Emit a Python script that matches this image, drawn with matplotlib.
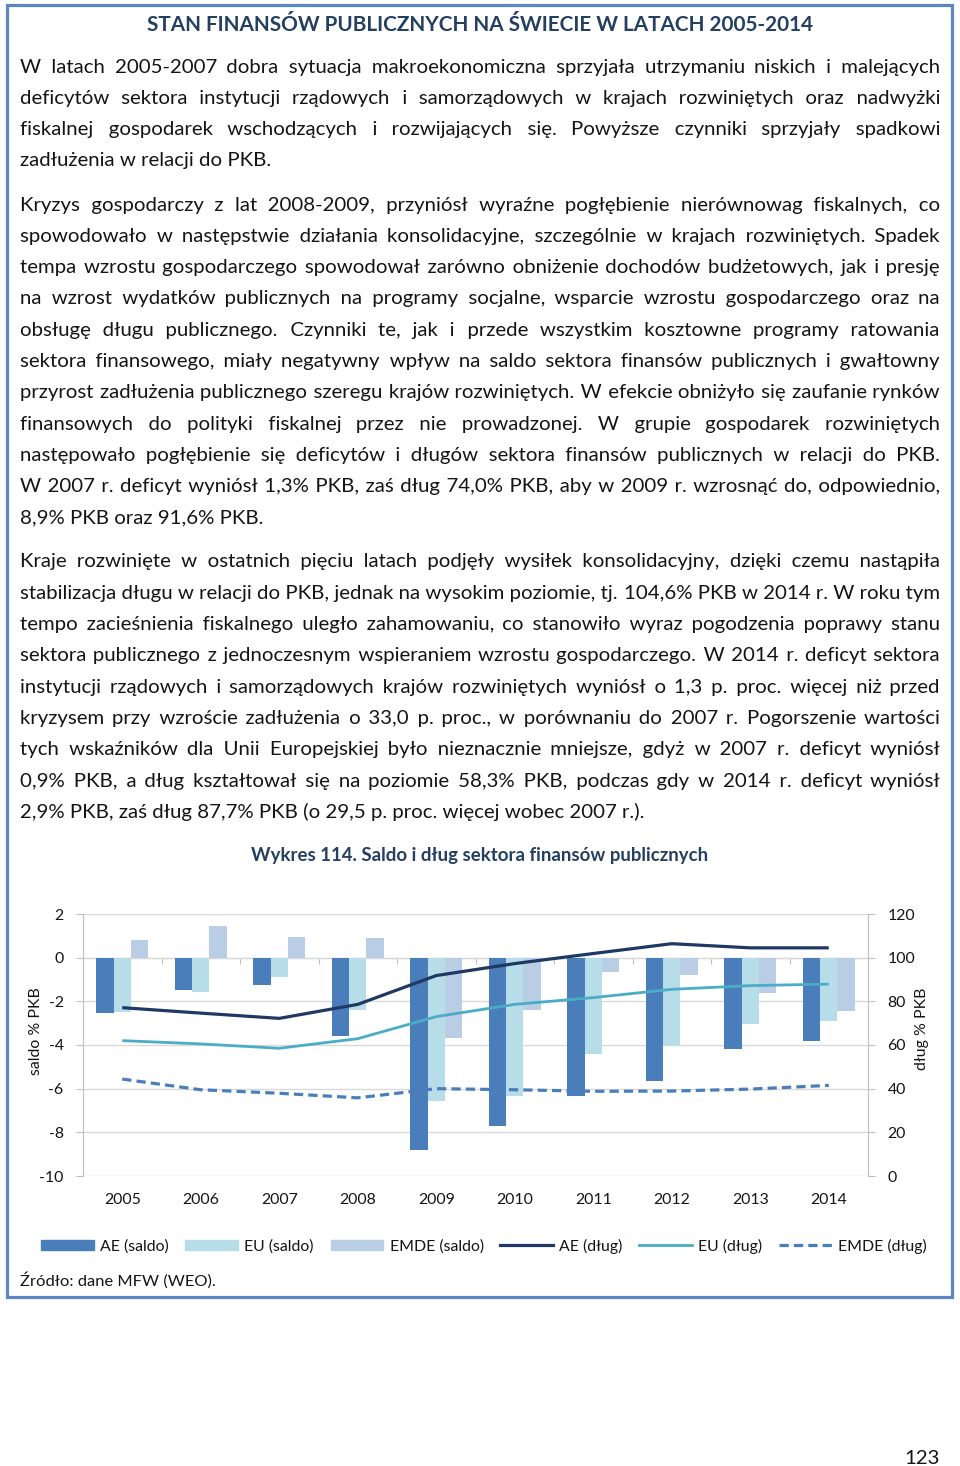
import matplotlib
matplotlib.use('Agg')
import matplotlib.pyplot as plt
import numpy as np
from matplotlib.patches import Rectangle, Patch
from matplotlib.lines import Line2D

# ---------------- data ----------------
years = ['2005', '2006', '2007', '2008', '2009', '2010', '2011', '2012', '2013', '2014']
ae_saldo = [-2.53, -1.48, -1.26, -3.58, -8.83, -7.70, -6.33, -5.67, -4.18, -3.83]
eu_saldo = [-2.48, -1.55, -0.88, -2.39, -6.56, -6.32, -4.41, -4.05, -3.06, -2.88]
emde_saldo = [0.79, 1.45, 0.95, 0.88, -3.68, -2.41, -0.65, -0.79, -1.62, -2.45]
ae_dlug = [77.1, 74.6, 72.2, 78.6, 91.8, 97.3, 101.9, 106.4, 104.5, 104.5]
eu_dlug = [62.0, 60.5, 58.5, 62.9, 73.0, 78.6, 81.7, 85.5, 87.2, 87.9]
emde_dlug = [44.4, 39.5, 37.9, 35.8, 40.0, 39.5, 38.8, 38.9, 39.8, 41.5]
left_ticks = [-10, -8, -6, -4, -2, 0, 2]
right_ticks = [0, 20, 40, 60, 80, 100, 120]
series_labels = ['AE (saldo)', 'EU (saldo)', 'EMDE (saldo)', 'AE (dług)', 'EU (dług)', 'EMDE (dług)']

title = 'STAN FINANSÓW PUBLICZNYCH NA ŚWIECIE W LATACH 2005-2014'
caption = 'Wykres 114. Saldo i dług sektora finansów publicznych'
source = 'Źródło: dane MFW (WEO).'
page_no = '123'

para1 = [
    'W latach 2005-2007 dobra sytuacja makroekonomiczna sprzyjała utrzymaniu niskich i malejących',
    'deficytów sektora instytucji rządowych i samorządowych w krajach rozwiniętych oraz nadwyżki',
    'fiskalnej gospodarek wschodzących i rozwijających się. Powyższe czynniki sprzyjały spadkowi',
    'zadłużenia w relacji do PKB.',
]
para2 = [
    'Kryzys gospodarczy z lat 2008-2009, przyniósł wyraźne pogłębienie nierównowag fiskalnych, co',
    'spowodowało w następstwie działania konsolidacyjne, szczególnie w krajach rozwiniętych. Spadek',
    'tempa wzrostu gospodarczego spowodował zarówno obniżenie dochodów budżetowych, jak i presję',
    'na wzrost wydatków publicznych na programy socjalne, wsparcie wzrostu gospodarczego oraz na',
    'obsługę długu publicznego. Czynniki te, jak i przede wszystkim kosztowne programy ratowania',
    'sektora finansowego, miały negatywny wpływ na saldo sektora finansów publicznych i gwałtowny',
    'przyrost zadłużenia publicznego szeregu krajów rozwiniętych. W efekcie obniżyło się zaufanie rynków',
    'finansowych do polityki fiskalnej przez nie prowadzonej. W grupie gospodarek rozwiniętych',
    'następowało pogłębienie się deficytów i długów sektora finansów publicznych w relacji do PKB.',
    'W 2007 r. deficyt wyniósł 1,3% PKB, zaś dług 74,0% PKB, aby w 2009 r. wzrosnąć do, odpowiednio,',
    '8,9% PKB oraz 91,6% PKB.',
]
para3 = [
    'Kraje rozwinięte w ostatnich pięciu latach podjęły wysiłek konsolidacyjny, dzięki czemu nastąpiła',
    'stabilizacja długu w relacji do PKB, jednak na wysokim poziomie, tj. 104,6% PKB w 2014 r. W roku tym',
    'tempo zacieśnienia fiskalnego uległo zahamowaniu, co stanowiło wyraz pogodzenia poprawy stanu',
    'sektora publicznego z jednoczesnym wspieraniem wzrostu gospodarczego. W 2014 r. deficyt sektora',
    'instytucji rządowych i samorządowych krajów rozwiniętych wyniósł o 1,3 p. proc. więcej niż przed',
    'kryzysem przy wzroście zadłużenia o 33,0 p. proc., w porównaniu do 2007 r. Pogorszenie wartości',
    'tych wskaźników dla Unii Europejskiej było nieznacznie mniejsze, gdyż w 2007 r. deficyt wyniósł',
    '0,9% PKB, a dług kształtował się na poziomie 58,3% PKB, podczas gdy w 2014 r. deficyt wyniósł',
    '2,9% PKB, zaś dług 87,7% PKB (o 29,5 p. proc. więcej wobec 2007 r.).',
]

# ---------------- styles ----------------
W, H = 960, 1466
FAM = ['Lato', 'DejaVu Sans']
plt.rcParams['font.family'] = FAM
TXT = '#141414'
HEAD = '#243f60'
C_AE = '#4a7ebb'
C_EU = '#b7dde8'
C_EMDE = '#b9cde5'
C_AE_L = '#1f3864'
C_EU_L = '#4bacc6'
C_EMDE_L = '#4a7ebb'
GRID = '#d9d9d9'
AXC = '#bfbfbf'

fig = plt.figure(figsize=(W / 100, H / 100), dpi=100)
renderer = fig.canvas.get_renderer()


def fx(x):
    return x / W


def fy(y):
    return 1 - y / H


def measure(s, size, weight='normal'):
    t = fig.text(0, 0, s, fontsize=size, family=FAM, fontweight=weight)
    w = t.get_window_extent(renderer=renderer).width
    t.remove()
    return w


def fit_size(s, target, weight='normal'):
    return 10 * target / measure(s, 10, weight)


# border
fig.patches.append(Rectangle((fx(7), fy(1297)), (952 - 7) / W, (1297 - 5) / H,
                             transform=fig.transFigure, fill=False,
                             edgecolor='#5b87c3', lw=2.3))

# title
ts = fit_size(title, 670, 'bold')
fig.text(fx(480), fy(31), title, fontsize=ts, fontweight='bold', color=HEAD,
         ha='center', va='baseline')

# body text (justified; each line is one text object, word gaps filled with spaces)
X0, X1 = 20, 940
SP, HS = ' ', '\u200a'
space10 = measure('x x', 10) - measure('xx', 10)
just_lines = [l for p in (para1, para2, para3) for l in p[:-1]]


def natural(line, size):
    ws = line.split(' ')
    return sum(measure(w, size) for w in ws) + (len(ws) - 1) * space10 * size / 10


maxnat = max(natural(l, 10) for l in just_lines)
bs = 10 * 918 / maxnat
S_W = measure('x' + SP + 'x', bs) - measure('xx', bs)
H_W = max(measure('x' + HS + 'x', bs) - measure('xx', bs), 0.3)


def justify(line):
    ws = line.split(' ')
    wd = [measure(w, bs) for w in ws]
    g = (X1 - X0 - sum(wd)) / (len(ws) - 1)
    s = ws[0]
    for k in range(1, len(ws)):
        target = sum(wd[:k + 1]) + k * g
        cur = measure(s + SP + ws[k], bs)
        need = target - cur
        best, best_err = (0, 0), abs(need)
        for a in range(0, 8):
            for b in range(0, int(S_W / H_W) + 2):
                err = abs(a * S_W + b * H_W - need)
                if err < best_err - 1e-9:
                    best, best_err = (a, b), err
        s = s + SP + SP * best[0] + HS * best[1] + ws[k]
    return s


def draw_par(lines, y0, step=31.3):
    for i, line in enumerate(lines):
        yb = y0 + i * step
        s = line if i == len(lines) - 1 else justify(line)
        fig.text(fx(X0), fy(yb), s, fontsize=bs, color=TXT, ha='left', va='baseline')


draw_par(para1, 72.5)
draw_par(para2, 210.5)
draw_par(para3, 567.5)

# caption
cs = fit_size(caption, 459, 'bold')
fig.text(fx(480), fy(861), caption, fontsize=cs, fontweight='bold', color=HEAD,
         ha='center', va='baseline')

# ---------------- chart ----------------
tk = fit_size('2005', 37)
ax = fig.add_axes([fx(83), fy(1176), 785 / W, 262 / H])
x = np.arange(len(years))
bw = 0.222
ax.bar(x - bw, ae_saldo, bw, color=C_AE, zorder=2, label=series_labels[0])
ax.bar(x, eu_saldo, bw, color=C_EU, zorder=2, label=series_labels[1])
ax.bar(x + bw, emde_saldo, bw, color=C_EMDE, zorder=2, label=series_labels[2])
ax.set_xlim(-0.5, len(years) - 0.5)
ax.set_ylim(left_ticks[0], left_ticks[-1])
ax.set_yticks(left_ticks)
ax.set_yticklabels([str(v) for v in left_ticks])
ax.grid(axis='y', color=GRID, lw=1.0, zorder=0)
ax.set_axisbelow(True)
for s in ('top', 'bottom', 'right'):
    ax.spines[s].set_visible(False)
ax.spines['left'].set_color(AXC)
ax.tick_params(axis='y', length=5, color=AXC, labelsize=tk, labelcolor=TXT, pad=9)
ax.set_xticks(x)
ax.set_xticklabels(years)
ax.tick_params(axis='x', length=0, labelsize=tk, labelcolor=TXT, pad=12)

# horizontal axis line at zero with category separators
loc0 = (0 - left_ticks[0]) / (left_ticks[-1] - left_ticks[0])
sec = ax.secondary_xaxis(loc0)
sec.set_alignment('bottom')
sec.set_xticks(np.arange(0.5, len(years) - 1, 1.0))
sec.tick_params(axis='x', length=4, color=AXC, labelbottom=False, labeltop=False)
for s in sec.spines.values():
    s.set_color(AXC)

ax2 = ax.twinx()
ax2.set_ylim(right_ticks[0], right_ticks[-1])
ax2.set_yticks(right_ticks)
ax2.set_yticklabels([str(v) for v in right_ticks])
for s in ('top', 'bottom', 'left'):
    ax2.spines[s].set_visible(False)
ax2.spines['right'].set_color(AXC)
ax2.tick_params(axis='y', length=5, color=AXC, labelsize=tk, labelcolor=TXT, pad=9)
l1, = ax2.plot(x, ae_dlug, color=C_AE_L, lw=2.3, solid_capstyle='butt', label=series_labels[3])
l2, = ax2.plot(x, eu_dlug, color=C_EU_L, lw=2.0, solid_capstyle='butt', label=series_labels[4])
l3, = ax2.plot(x, emde_dlug, color=C_EMDE_L, lw=2.3, dashes=(2.9, 1.6), label=series_labels[5])

fig.text(fx(36), fy(1031), 'saldo % PKB', rotation=90, fontsize=tk, color=TXT,
         ha='center', va='center')
fig.text(fx(922), fy(1029), 'dług % PKB', rotation=90, fontsize=tk, color=TXT,
         ha='center', va='center')

handles = [Patch(color=C_AE), Patch(color=C_EU), Patch(color=C_EMDE),
           Line2D([], [], color=C_AE_L, lw=2.3),
           Line2D([], [], color=C_EU_L, lw=2.0),
           Line2D([], [], color=C_EMDE_L, lw=2.3, dashes=(2.9, 1.6))]
fig.legend(handles, series_labels, loc='center', bbox_to_anchor=(fx(484), fy(1246)),
           ncol=6, frameon=False, fontsize=tk, handlelength=3.3, handleheight=0.55,
           handletextpad=0.4, columnspacing=1.05, labelcolor=TXT,
           borderaxespad=0, borderpad=0)

ss = fit_size(source, 195)
fig.text(fx(20), fy(1286), source, fontsize=ss, color=TXT, ha='left', va='baseline')

fig.text(fx(940), fy(1464), page_no, fontsize=bs, color=TXT, ha='right', va='baseline')

fig.savefig('out.png', dpi=100)
